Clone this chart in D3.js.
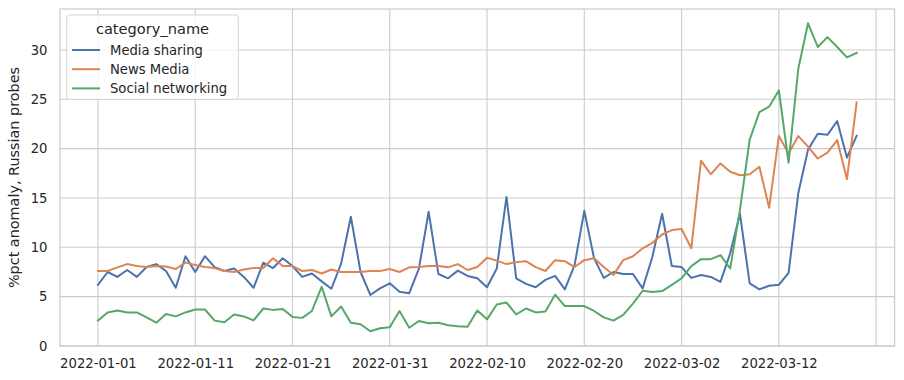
<!DOCTYPE html>
<html><head><meta charset="utf-8">
<script src="https://cdn.jsdelivr.net/npm/d3@7/dist/d3.min.js"></script>
<style>
html,body{margin:0;padding:0;background:#fff;}
svg{display:block;font-family:"DejaVu Sans",sans-serif;}
</style></head>
<body><svg id="chart" width="904" height="380"></svg>
<script>
const startDate = "2022-01-01";
const endDate = "2022-03-20";
const seriesNames = ["Media sharing", "News Media", "Social networking"];
const mediaSharing = [6.2,7.5,7.0,7.7,7.0,8.0,8.3,7.6,5.9,9.1,7.5,9.1,8.0,7.6,7.85,7.0,5.9,8.45,7.9,8.9,8.1,7.0,7.35,6.55,5.8,8.35,13.1,7.5,5.17,5.84,6.35,5.5,5.35,7.85,13.6,7.3,6.86,7.64,7.1,6.86,5.95,7.85,15.1,6.86,6.3,5.95,6.7,7.1,5.74,8.2,13.7,8.9,6.9,7.5,7.3,7.3,5.84,9.05,13.4,8.1,8.0,6.9,7.2,7.0,6.5,9.4,13.4,6.35,5.74,6.1,6.2,7.4,15.5,19.9,21.5,21.4,22.8,19.1,21.3];
const newsMedia = [7.6,7.6,7.97,8.3,8.1,8.0,8.1,8.05,7.8,8.45,8.2,8.0,7.9,7.6,7.5,7.75,7.9,7.9,8.9,8.1,8.1,7.6,7.7,7.35,7.75,7.5,7.5,7.5,7.6,7.6,7.8,7.5,7.97,8.0,8.1,8.1,7.97,8.3,7.7,8.0,8.95,8.65,8.3,8.5,8.6,8.0,7.6,8.7,8.6,8.0,8.7,8.9,8.0,7.2,8.7,9.1,9.9,10.45,11.3,11.75,11.85,9.9,18.78,17.4,18.5,17.66,17.3,17.4,18.17,14.0,21.27,19.5,21.27,20.2,19.0,19.6,20.86,16.9,24.7];
const socialNetworking = [2.57,3.4,3.6,3.4,3.4,2.9,2.36,3.24,3.0,3.4,3.7,3.7,2.57,2.4,3.2,3.0,2.6,3.8,3.66,3.75,2.95,2.85,3.55,6.0,3.0,4.0,2.36,2.2,1.5,1.8,1.9,3.55,1.85,2.53,2.3,2.36,2.1,2.0,1.95,3.6,2.7,4.2,4.4,3.2,3.8,3.4,3.5,5.2,4.05,4.05,4.05,3.55,2.9,2.57,3.15,4.3,5.6,5.47,5.57,6.2,6.85,8.1,8.8,8.8,9.2,7.85,13.8,20.9,23.7,24.25,25.9,18.57,28.1,32.7,30.3,31.3,30.3,29.25,29.7];
const xTickLabels = ["2022-01-01","2022-01-11","2022-01-21","2022-01-31","2022-02-10","2022-02-20","2022-03-02","2022-03-12"];
const xGridExtra = ["2022-03-22"];
const yTicks = [0,5,10,15,20,25,30];
const colors = ["#4c72b0","#dd8452","#55a868"];
const legendTitle = "category_name";
const yLabel = "%pct anomaly, Russian probes";

const parse = d3.utcParse("%Y-%m-%d");
const fmt = d3.utcFormat("%Y-%m-%d");
const dates = d3.utcDay.range(parse(startDate), d3.utcDay.offset(parse(endDate), 1));
const allSeries = [mediaSharing, newsMedia, socialNetworking];

const svg = d3.select("#chart");
const L = 60, R = 894.6, T = 9, B = 346;
const d0 = parse(startDate), d1 = parse(endDate);
const span = d1 - d0;
const x = d3.scaleUtc().domain([new Date(+d0 - span*0.05), new Date(+d1 + span*0.05)]).range([L, R]);
const y = d3.scaleLinear().domain([0, 34.15]).range([B, T]);

const gridColor = "#cccccc";
const gridDates = xTickLabels.concat(xGridExtra).map(parse);
svg.append("g").selectAll("line").data(gridDates).join("line")
  .attr("x1", d => x(d)).attr("x2", d => x(d)).attr("y1", T).attr("y2", B)
  .attr("stroke", gridColor).attr("stroke-width", 1.1);
svg.append("g").selectAll("line").data(yTicks).join("line")
  .attr("x1", L).attr("x2", R).attr("y1", d => y(d)).attr("y2", d => y(d))
  .attr("stroke", gridColor).attr("stroke-width", 1.1);

const xAxis = d3.axisBottom(x).tickValues(xTickLabels.map(parse)).tickFormat(fmt).tickSize(0).tickPadding(13);
const gx = svg.append("g").attr("transform", `translate(0,${B})`).call(xAxis);
gx.select(".domain").remove();
gx.selectAll("text").attr("font-size", 13.2).attr("fill", "#262626").attr("font-family", "DejaVu Sans");
const yAxis = d3.axisLeft(y).tickValues(yTicks).tickSize(0).tickPadding(12.5);
const gy = svg.append("g").attr("transform", `translate(${L},0)`).call(yAxis);
gy.select(".domain").remove();
gy.selectAll("text").attr("font-size", 13.2).attr("fill", "#262626").attr("font-family", "DejaVu Sans");

svg.append("rect").attr("x", L).attr("y", T).attr("width", R - L).attr("height", B - T)
  .attr("fill", "none").attr("stroke", gridColor).attr("stroke-width", 1.25);

const line = d3.line().x((d, i) => x(dates[i])).y(d => y(d));
allSeries.forEach((s, k) => {
  svg.append("path").datum(s).attr("d", line).attr("fill", "none")
    .attr("stroke", colors[k]).attr("stroke-width", 2).attr("stroke-linejoin", "round").attr("stroke-linecap", "square");
});

svg.append("text").attr("transform", `translate(19,${(T + B) / 2}) rotate(-90)`)
  .attr("text-anchor", "middle").attr("font-size", 14.4).attr("fill", "#262626").text(yLabel);

const lg = svg.append("g");
lg.append("rect").attr("x", 66.7).attr("y", 15).attr("width", 171.6).attr("height", 84.3).attr("rx", 3)
  .attr("fill", "#fff").attr("fill-opacity", 0.8).attr("stroke", "#d5d5d5").attr("stroke-width", 1);
lg.append("text").attr("x", 152.5).attr("y", 33.5).attr("text-anchor", "middle").attr("font-size", 14.6)
  .attr("fill", "#262626").text(legendTitle);
seriesNames.forEach((n, k) => {
  const cy = 50 + k * 19.2;
  lg.append("line").attr("x1", 72).attr("x2", 100).attr("y1", cy).attr("y2", cy)
    .attr("stroke", colors[k]).attr("stroke-width", 2);
  lg.append("text").attr("x", 110).attr("y", cy + 4.7).attr("font-size", 13.2).attr("fill", "#262626").text(n);
});
</script></body></html>
